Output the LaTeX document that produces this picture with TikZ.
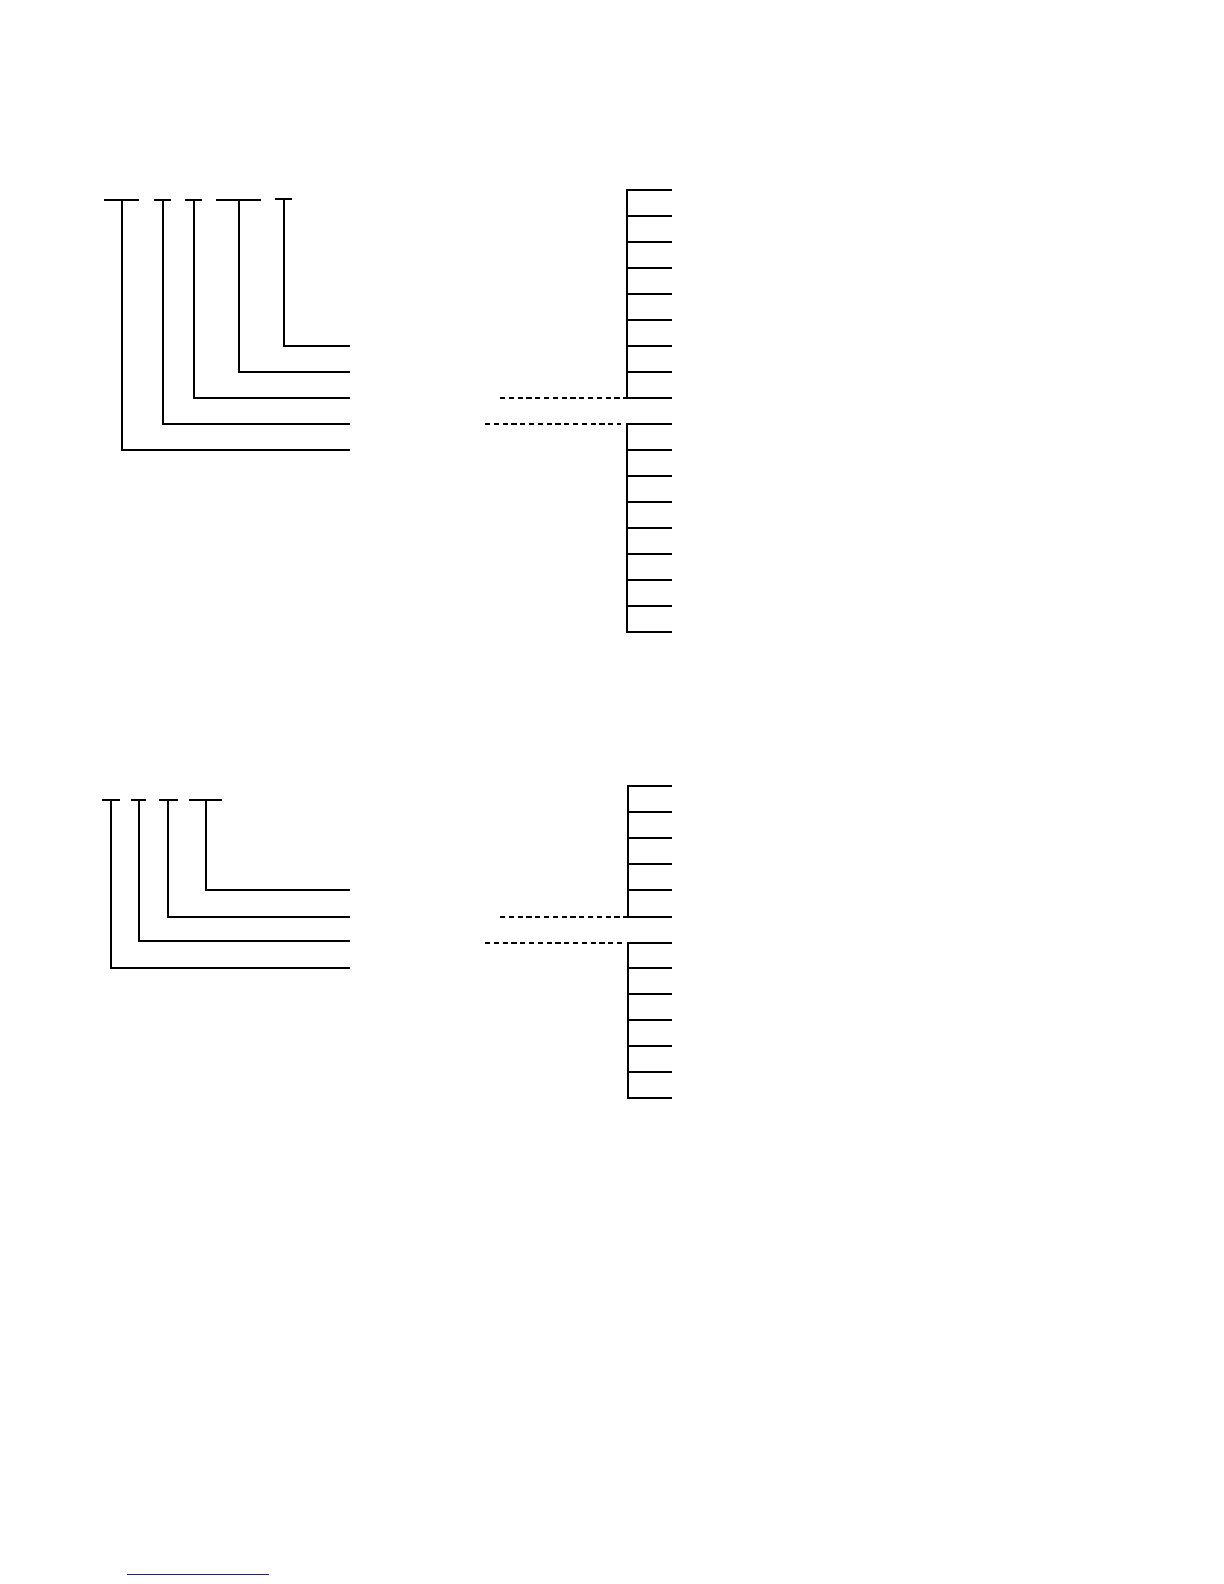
\documentclass[tikz,border=0pt]{standalone}
\begin{document}
\begin{tikzpicture}[x=0.5pt,y=-0.5pt,
  ln/.style={line width=1pt,line cap=rect},
  dsh/.style={line width=1pt,dash pattern=on 2.6pt off 1.8pt},
  tick/.style={line width=1pt}]
\useasboundingbox (0,0) rectangle (1224,1584);
% ---------- upper block: left brackets ----------
\draw[ln] (105,200) -- (138,200);
\draw[ln] (155,200) -- (170,200);
\draw[ln] (186,200) -- (201,200);
\draw[ln] (217,200) -- (260,200);
\draw[ln] (276,198.5) -- (291,198.5);
\draw[ln] (121.5,200) -- (121.5,450) -- (349,450);
\draw[ln] (162.5,200) -- (162.5,424) -- (349,424);
\draw[ln] (193.5,200) -- (193.5,398) -- (349,398);
\draw[ln] (239,200) -- (239,372) -- (349,372);
\draw[ln] (284,198.5) -- (284,345.5) -- (349,345.5);
% ---------- upper block: right ladders ----------
\coordinate (ua) at (627,190);
\coordinate (ub) at (627,398);
\coordinate (uc) at (627,424);
\coordinate (ud) at (627,632);
\draw[ln] (ua) -- (ub);
\draw[ln] (uc) -- (ud);
\foreach \i in {0,...,8} {
  \draw[tick] (627,190+26*\i) -- (672,190+26*\i);
  \draw[tick] (627,424+26*\i) -- (672,424+26*\i);
}
\draw[dsh] (500,398) -- (ub);
\draw[dsh] (485,424) -- (621,424);
% ---------- lower block: left brackets ----------
\draw[ln] (103,799.5) -- (119,799.5);
\draw[ln] (132,799.5) -- (145,799.5);
\draw[ln] (160,799.5) -- (177,799.5);
\draw[ln] (190,799.5) -- (221,799.5);
\draw[ln] (110.5,799.5) -- (110.5,968) -- (349,968);
\draw[ln] (138.5,799.5) -- (138.5,941) -- (349,941);
\draw[ln] (167.5,799.5) -- (167.5,916.5) -- (349,916.5);
\draw[ln] (205.5,799.5) -- (205.5,890) -- (349,890);
% ---------- lower block: right ladders ----------
\coordinate (la) at (627.5,786);
\coordinate (lb) at (627.5,916.5);
\coordinate (lc) at (627.5,942.5);
\coordinate (ld) at (627.5,1098);
\draw[ln] (la) -- (lb);
\draw[ln] (lc) -- (ld);
\foreach \y in {786,812,838,864,890,916.5} {
  \draw[tick] (627.5,\y) -- (672,\y);
}
\foreach \y in {942.5,968,994,1020,1046,1072,1098} {
  \draw[tick] (627.5,\y) -- (672,\y);
}
\draw[dsh] (500,916.5) -- (lb);
\draw[dsh] (485,942.5) -- (621.5,942.5);
% ---------- footer rule ----------
\definecolor{linkblue}{RGB}{30,30,150}
\draw[linkblue,line width=0.7pt] (127,1574.5) -- (269,1574.5);
\end{tikzpicture}
\end{document}
